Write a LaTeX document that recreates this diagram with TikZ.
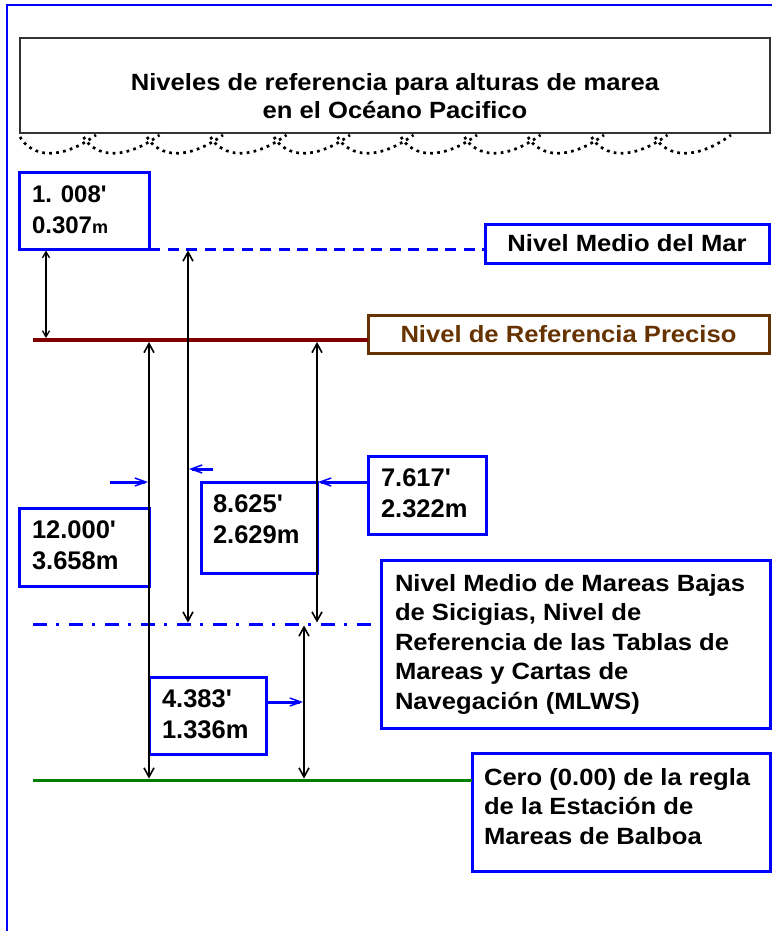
\documentclass[tikz,border=0pt]{standalone}
\usepackage{fontspec}
\setmainfont{Liberation Sans}
\newfontfamily\labfont[FakeStretch=1.09]{Liberation Sans}
\usetikzlibrary{arrows.meta}
\definecolor{brline}{RGB}{128,0,0}
\definecolor{brtext}{RGB}{102,51,0}
\definecolor{grline}{RGB}{0,128,0}
\begin{document}
\begin{tikzpicture}[x=1pt,y=-1pt,
  boxbase/.style={inner sep=0pt, outer sep=0pt, anchor=north west},
  numbox/.style={boxbase, draw=blue, line width=3pt},
  numtext/.style={font=\bfseries\fontsize{25.5}{31}\selectfont, align=left, inner sep=0pt, outer sep=0pt, anchor=north west},
  labtext/.style={font=\labfont\bfseries\fontsize{23.5}{29.4}\selectfont, align=left, inner sep=0pt, outer sep=0pt, anchor=north west},
  dimarrow/.style={draw=black, line width=1.6pt, {Straight Barb[length=9pt,width=10pt]}-{Straight Barb[length=9pt,width=10pt]}},
  dimthin/.style={draw=black, line width=1.3pt, {Straight Barb[length=6pt,width=7pt]}-{Straight Barb[length=6pt,width=7pt]}},
  ptr/.style={draw=blue, line width=3pt, -{Straight Barb[length=11pt,width=8pt,line width=1.5pt]}},
  wave/.style={draw=black, line width=2.7pt, dash pattern=on 2.7pt off 4.3pt},
]
\useasboundingbox (0,0) rectangle (771,931);
% frame
\draw[blue, line width=2pt] (7,945) -- (7,5) -- (790,5);
% title
\node[boxbase, draw=black!80, line width=1.5pt, minimum width=750pt, minimum height=95pt] (title) at (20,38) {};
\node[labtext, align=center, anchor=north, font=\labfont\bfseries\fontsize{23.5}{28}\selectfont] (ttext) at (395,73) {Niveles de referencia para alturas de marea\\en el Océano Pacifico};
% waves
\foreach \i [evaluate=\i as \x using 20+63.5*\i] in {0,...,10} {
  \draw[wave] (\x,137) .. controls ({\x+12},157) and ({\x+40},161) .. ({\x+76},135);
}
% level lines
\coordinate (brL) at (33,340);
\coordinate (mlL) at (33,624);
\coordinate (grL) at (33,780);
% boxes
\node[numbox, minimum width=130pt, minimum height=77pt] (b1008) at (19,172) {};
\node[numtext, font=\bfseries\fontsize{24}{31}\selectfont] (t1008) at (32,185.5) {1. 008\textquotesingle\\0.307{\fontsize{18}{18}\selectfont m}};
\node[boxbase, draw=blue, line width=3pt, minimum width=284pt, minimum height=39pt, anchor=center, font=\labfont\bfseries\fontsize{23.5}{28}\selectfont] (mar) at (627,243.5) {Nivel Medio del Mar};
\node[boxbase, draw=brtext, text=brtext, line width=3pt, minimum width=401pt, minimum height=38pt, anchor=center, font=\labfont\bfseries\fontsize{23.5}{28}\selectfont] (ref) at (568.5,334) {Nivel de Referencia Preciso};
\node[numbox, minimum width=130pt, minimum height=78pt] (b12) at (19,508) {};
\node[numtext] (t12) at (32,521) {12.000\textquotesingle\\3.658m};
\node[numbox, minimum width=116pt, minimum height=91pt] (b8625) at (201,482) {};
\node[numtext] (t8625) at (213,495) {8.625\textquotesingle\\2.629m};
\node[numbox, minimum width=118pt, minimum height=78pt] (b7617) at (368,456) {};
\node[numtext] (t7617) at (381,469) {7.617\textquotesingle\\2.322m};
\node[numbox, minimum width=117pt, minimum height=77pt] (b4383) at (149,677) {};
\node[numtext] (t4383) at (162,690) {4.383\textquotesingle\\1.336m};
\node[numbox, minimum width=389pt, minimum height=168pt] (mlws) at (381,560) {};
\node[labtext] (tmlws) at (395,574.5) {Nivel Medio de Mareas Bajas\\de Sicigias, Nivel de\\Referencia de las Tablas de\\Mareas y Cartas de\\Navegación (MLWS)};
\node[numbox, minimum width=298pt, minimum height=118pt] (cero) at (472,753) {};
\node[labtext] (tcero) at (484,768.5) {Cero (0.00) de la regla\\de la Estación de\\Mareas de Balboa};
% lines
\draw[blue, line width=3pt, dash pattern=on 11pt off 7.5pt] (b1008.south east) -- (b1008.south east -| mar.west);
\draw[brline, line width=4pt] (brL) -- (brL -| ref.west);
\draw[blue, line width=3pt, dash pattern=on 14pt off 9pt on 3pt off 10pt] (mlL) -- (mlL -| mlws.west);
\draw[grline, line width=3pt] (grL) -- (grL -| cero.west);
% dimension arrows
\coordinate (a1t) at (46,250.5);  \coordinate (a1b) at (46,338);
\coordinate (a2t) at (188,250.5); \coordinate (a2b) at (188,622.5);
\coordinate (a3t) at (149,342);   \coordinate (a3b) at (149,778.5);
\coordinate (a4t) at (317,342);   \coordinate (a4b) at (317,622.5);
\coordinate (a5t) at (304,625.5); \coordinate (a5b) at (304,778.5);
\draw[dimthin] (a1t) -- (a1b);
\draw[dimarrow] (a2t) -- (a2b);
\draw[dimarrow] (a3t) -- (a3b);
\draw[dimarrow] (a4t) -- (a4b);
\draw[dimarrow] (a5t) -- (a5b);
% blue pointers
\coordinate (p1s) at (110,482); \coordinate (p1e) at (148,482);
\coordinate (p2s) at (213,469); \coordinate (p2e) at (189,469);
\coordinate (p3s) at (368,482); \coordinate (p3e) at (318,482);
\coordinate (p4s) at (266,702); \coordinate (p4e) at (303,702);
\draw[ptr] (p1s) -- (p1e);
\draw[ptr] (p2s) -- (p2e);
\draw[ptr] (p3s) -- (p3e);
\draw[ptr] (p4s) -- (p4e);
\end{tikzpicture}
\end{document}
